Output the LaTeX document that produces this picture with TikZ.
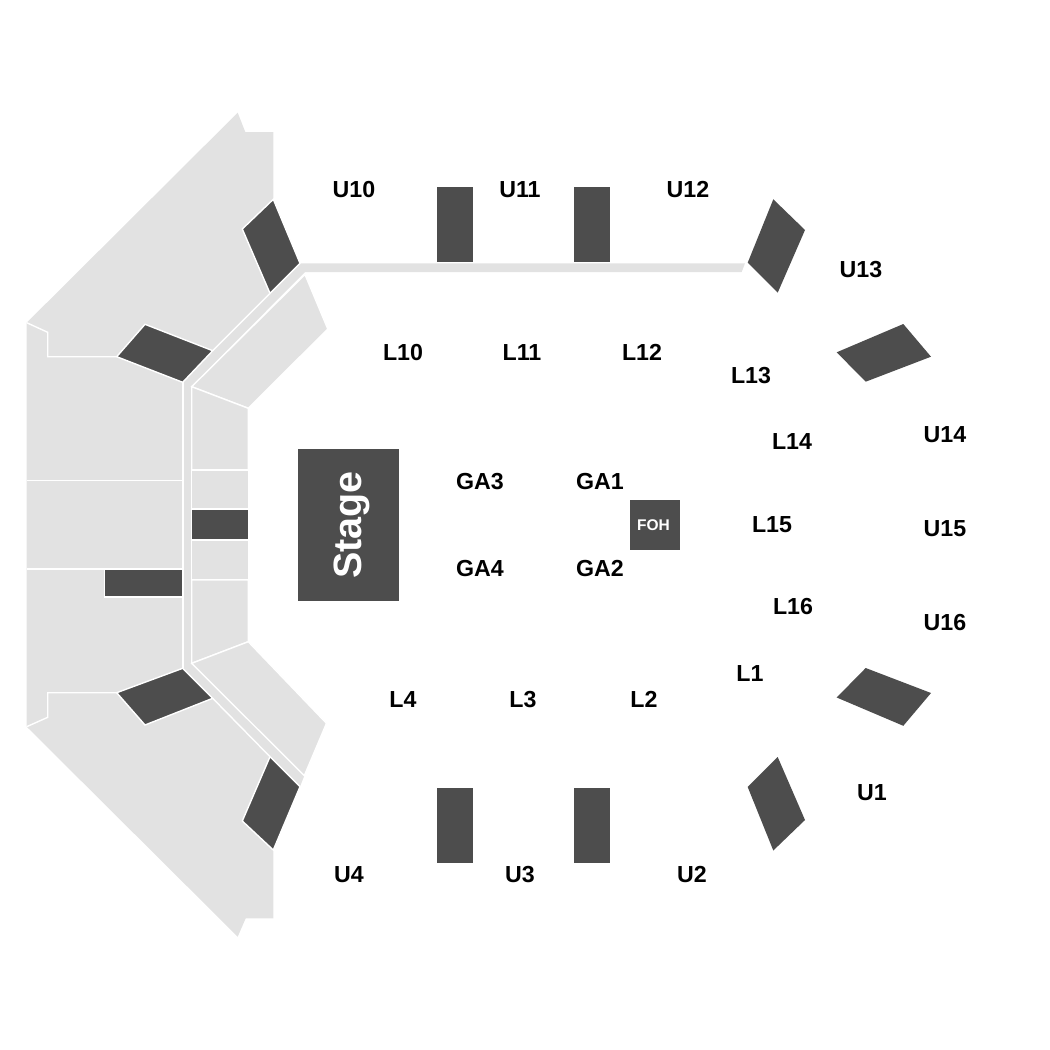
\documentclass[tikz,border=0pt]{standalone}
\usepackage{fontspec}
\setmainfont{Liberation Sans}
\tikzset{
  zone/.style={fill=zonegrey,draw=white,line width=1.4pt,line join=miter},
  bare/.style={fill=zonegrey,draw=none},
  sep/.style={white,line width=1.4pt},
  dark/.style={fill=darkgrey,draw=white,line width=1.4pt,line join=miter},
  darkplain/.style={fill=darkgrey,draw=none},
  lab/.style={font=\bfseries\fontsize{23.2}{24}\selectfont,text=black,inner sep=0pt,anchor=center,text height=16.6pt,text depth=0pt,yshift=0.2pt},
}
\definecolor{zonegrey}{HTML}{E2E2E2}
\definecolor{darkgrey}{HTML}{4D4D4D}
\begin{document}
\begin{tikzpicture}[x=1pt,y=-1pt]
\useasboundingbox (0,0) rectangle (1050,1050);
% grey aisle and seating base
\fill[bare] (26.7,322.7) -- (237.7,112.7) -- (245.3,132) -- (273.3,132) -- (273.3,199.3) -- (300,263.3)
  -- (745,263.3) -- (741.7,272) -- (305,272) -- (191.7,386) -- (191.7,663.5) -- (304.3,775.7) -- (300,786.7)
  -- (273.3,850) -- (273.3,918.3) -- (245.7,918.3) -- (237.7,936.7) -- (26.7,726.7) -- cycle;
% seating blocks (white separators)
\draw[sep] (270,293.3) -- (212.7,350.7);
\draw[sep] (116.7,356.7) -- (47.7,356.7) -- (47.7,332.3) -- (26.7,322.7);
\draw[sep] (116.7,692.7) -- (47.7,692.7) -- (47.7,717.3) -- (26.7,726.7);
\draw[sep] (212.7,698.3) -- (270,756.7);
\draw[sep] (183,382.3) -- (183,668.3);
\draw[sep] (26.7,480.7) -- (183,480.7);
\draw[sep] (26.7,569) -- (183,569);
% inner blocks
\path[zone] (305,274.5) -- (327.8,329) -- (248.3,408.3) -- (191.7,386.7) -- cycle;
\path[zone] (191.7,386.7) -- (248.3,408.3) -- (248.3,470) -- (191.7,470) -- cycle;
\path[zone] (191.7,470) rectangle (248.3,509);
\path[zone] (191.7,540) rectangle (248.3,580);
\path[zone] (191.7,580) -- (248.3,580) -- (248.3,641.7) -- (191.7,663.3) -- cycle;
\path[zone] (191.7,663.3) -- (248.3,641.7) -- (326.5,723.3) -- (304.3,775.7) -- cycle;
% dark blocks
\path[dark] (273.3,199.3) -- (300,263.3) -- (270,293.3) -- (242.3,229) -- cycle;
\path[dark] (145,324.3) -- (212.7,350.7) -- (182.7,382.3) -- (116.7,356.7) -- cycle;
\path[dark] (182.7,668.3) -- (212.7,698.3) -- (145,725) -- (116.7,692.7) -- cycle;
\path[dark] (270,756.7) -- (300,786.7) -- (273.3,850) -- (242.3,821) -- cycle;
\path[dark] (104.5,569.5) rectangle (182.7,597);
\path[dark] (191.7,509) rectangle (248.3,540);
\fill[darkplain] (437,186.7) rectangle (473,262);
\fill[darkplain] (574,186.7) rectangle (610.3,262);
\fill[darkplain] (437,788) rectangle (473,863);
\fill[darkplain] (574,788) rectangle (610.3,863);
\fill[darkplain] (773.3,199.3) -- (805,230) -- (777.7,292.7) -- (747.7,262.7) -- cycle;
\fill[darkplain] (903.3,324) -- (931,356.7) -- (865.7,381.7) -- (836.7,352.3) -- cycle;
\fill[darkplain] (777.7,757) -- (805,820) -- (773.3,850.5) -- (747.7,787) -- cycle;
\fill[darkplain] (865.7,668) -- (931,693) -- (903.3,725.8) -- (836.7,697.5) -- cycle;
% stage and FOH
\node[darkplain,minimum width=101.5pt,minimum height=152pt,inner sep=0pt] (stage) at (348.3,525) {};
\node[rotate=90,text=white,font=\bfseries\fontsize{39.5}{40}\selectfont,inner sep=0pt] (stagelab) at (352,525) {Stage};
\node[darkplain,minimum width=50pt,minimum height=50pt,inner sep=0pt,text=white,font=\bfseries\fontsize{15.5}{16}\selectfont] (foh) at (655,525) {\kern-3pt FOH};
% labels
\foreach \n/\x/\y in {U10/354/189,U11/520/189,U12/688/189,U13/861/269,U14/945/434,U15/945/528,U16/945/622,
  U1/872/792,U2/692/874,U3/520/874,U4/349/874,L10/403/352,L11/522/352,L12/642/352,L13/751/375,L14/792/441,
  L15/772/524,L16/793/606,L1/750/673,L2/644/699,L3/523/699,L4/403/699,GA1/600/481,GA2/600/568,GA3/480/481,GA4/480/568}
  \node[lab] (\n) at (\x,\y) {\n};
\end{tikzpicture}
\end{document}
